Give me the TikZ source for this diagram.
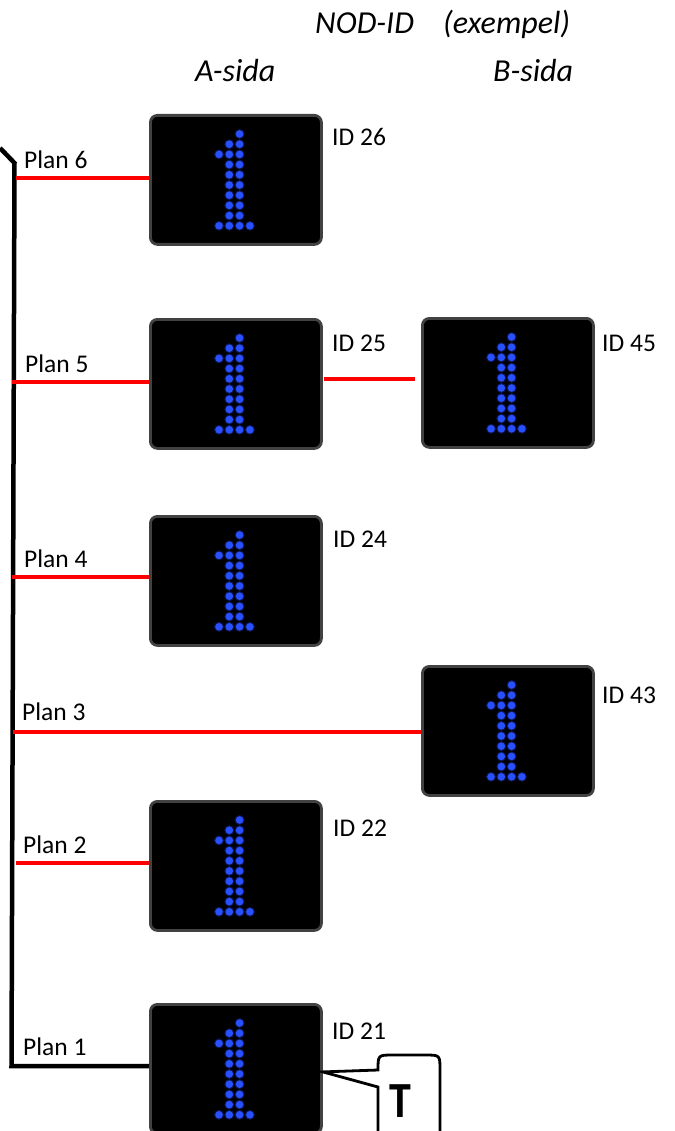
\documentclass[tikz,border=0pt]{standalone}
\usepackage{fontspec}
\setmainfont{Carlito}
\usetikzlibrary{calc}
\definecolor{ledblue}{RGB}{40,80,255}
\definecolor{ledglow}{RGB}{30,50,200}
\definecolor{bezel}{RGB}{66,66,66}
\definecolor{wirered}{RGB}{255,0,0}
\tikzset{
  lcd/.style={draw=bezel, line width=2.8pt, fill=black, rounded corners=7pt,
    minimum width=171pt, minimum height=129pt, anchor=north west, inner sep=0pt},
  idlabel/.style={anchor=base west, inner sep=0pt, font=\fontsize{25.5}{30}\selectfont},
  planlabel/.style={anchor=base west, inner sep=0pt, font=\fontsize{25.5}{30}\selectfont},
  header/.style={anchor=base west, inner sep=0pt, font=\itshape\fontsize{32}{38}\selectfont},
  redwire/.style={draw=wirered, line width=4pt},
  buswire/.style={draw=black, line width=4.5pt, line join=miter},
}
\newcommand\ledone[1]{%
  \foreach \c/\r in {3/0, 2/1,3/1, 1/2,2/2,3/2, 2/3,3/3, 2/4,3/4, 2/5,3/5, 2/6,3/6, 2/7,3/7, 2/8,3/8, 1/9,2/9,3/9,4/9}{
    \fill[ledglow, opacity=0.4] ($(#1.north west)+(59.7+10.3*\c, 20+10.2*\r)$) circle (5pt);
    \fill[ledblue] ($(#1.north west)+(59.7+10.3*\c, 20+10.2*\r)$) circle (3.8pt);
  }%
}
\begin{document}
\begin{tikzpicture}[x=1pt, y=-1pt]
\useasboundingbox (0,0) rectangle (674,1131);

% headers
\node[header] (hnod) at (315,34) {NOD-ID};
\node[header] (hex) at (443,34) {(exempel)};
\node[header] (ha) at (195,82) {A-sida};
\node[header] (hb) at (493,82) {B-sida};

% displays
\node[lcd] (d26) at (149,114) {};
\node[lcd] (d25) at (149,318) {};
\node[lcd] (d45) at (421,317) {};
\node[lcd] (d24) at (149,515) {};
\node[lcd] (d43) at (421,665) {};
\node[lcd] (d22) at (149,800) {};
\node[lcd] (d21) at (149,1003) {};
\foreach \d in {d26,d25,d45,d24,d43,d22,d21}{\ledone{\d}}

% id labels
\node[idlabel] (i26) at (332,146) {ID 26};
\node[idlabel] (i25) at (332,351) {ID 25};
\node[idlabel] (i45) at (602,351) {ID 45};
\node[idlabel] (i24) at (333,547) {ID 24};
\node[idlabel] (i43) at (602,703) {ID 43};
\node[idlabel] (i22) at (333,836) {ID 22};
\node[idlabel] (i21) at (332,1039) {ID 21};

% bus
\coordinate (b0) at (0,148);
\coordinate (b1) at (14.5,163);
\coordinate (b2) at (11.5,1066);
\draw[buswire] (b0) -- (b1) -- (b2) -- (b2 -| d21.west);

% floor wires
\coordinate (p6) at (16,178);
\coordinate (p5) at (12,382);
\coordinate (p4) at (12,577);
\coordinate (p3) at (13,732);
\coordinate (p2) at (16,863);
\draw[redwire] (p6) -- (p6 -| d26.west);
\draw[redwire] (p5) -- (p5 -| d25.west);
\draw[redwire] (p4) -- (p4 -| d24.west);
\draw[redwire] (p3) -- (p3 -| d43.west);
\draw[redwire] (p2) -- (p2 -| d22.west);
\coordinate (q25) at (324,379);
\draw[redwire] (q25) -- (q25 -| d45.west) [shorten >=6pt];

% plan labels
\node[planlabel] (l6) at (24,169) {Plan 6};
\node[planlabel] (l5) at (25,372) {Plan 5};
\node[planlabel] (l4) at (24,567) {Plan 4};
\node[planlabel] (l3) at (22,720) {Plan 3};
\node[planlabel] (l2) at (23,853) {Plan 2};
\node[planlabel] (l1) at (23,1055) {Plan 1};

% terminator callout
\coordinate (tip) at ($(d21.east)+(0,3)$);
\draw[line width=2.8pt, line join=miter] (tip) -- (378,1087) -- (378,1150) -- (440,1150) -- (440,1070)
  .. controls (440,1055) .. (425,1055) -- (393,1055) .. controls (378,1055) .. (378,1070) -- cycle;
\node[inner sep=0pt, font=\bfseries\fontsize{44}{50}\selectfont, yscale=1.15] (tt) at (400,1101) {T};
\end{tikzpicture}
\end{document}
